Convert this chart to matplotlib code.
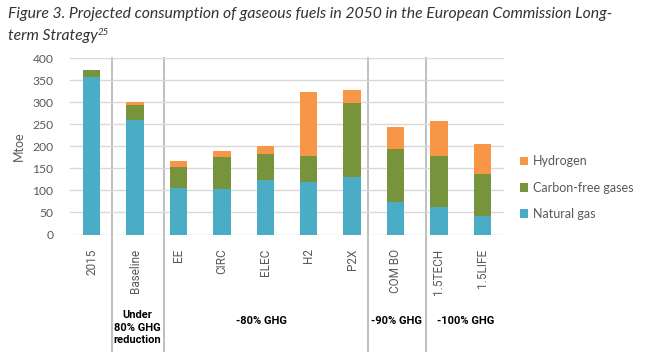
import numpy as np
import matplotlib
matplotlib.use("Agg")
import matplotlib.pyplot as plt

# data (Mtoe)
scenarios = ["2015", "Baseline", "EE", "CIRC", "ELEC", "H2", "P2X", "COM BO", "1.5TECH", "1.5LIFE"]
natural_gas = [357, 260, 106, 103, 124, 119, 130, 73, 63, 42]
carbon_free = [16, 34, 47, 73, 59, 59, 169, 121, 115, 96]
hydrogen = [0, 6, 14, 14, 17, 146, 28, 49, 79, 67]

group_labels = ["Under\n80% GHG\nreduction", "-80% GHG", "-90% GHG", "-100% GHG"]
group_centers = [1.04, 3.92, 7.03, 8.62]
separators = [0.46, 1.66, 6.37, 7.70]

c_ng = "#4BACC6"
c_cf = "#77933C"
c_h2 = "#F79646"
grey = "#595959"

fig = plt.figure(figsize=(6.56, 3.52), dpi=100)
ax = fig.add_axes([70/656, 1-234.5/352, 434/656, 176.2/352])

x = np.arange(len(scenarios))
ng = np.array(natural_gas)
cf = np.array(carbon_free)
h2 = np.array(hydrogen)
w = 0.40
ax.bar(x, ng, w, color=c_ng, label="Natural gas", zorder=3)
ax.bar(x, cf, w, bottom=ng, color=c_cf, label="Carbon-free gases", zorder=3)
ax.bar(x, h2, w, bottom=ng+cf, color=c_h2, label="Hydrogen", zorder=3)

ax.set_xlim(-0.5, len(scenarios)-0.5)
ax.set_ylim(0, 400)
ax.set_yticks(np.arange(0, 401, 50))
ax.yaxis.grid(True, color="#D9D9D9", lw=1, zorder=0)
for s in ax.spines.values():
    s.set_visible(False)
ax.tick_params(length=0)
ax.tick_params(axis="y", pad=12, labelsize=8.7, labelcolor=grey)
for t in ax.get_yticklabels():
    t.set_family("Lato")
ax.set_xticks(x)
ax.set_xticklabels(scenarios, rotation=90, family="Roboto", fontsize=8.5, color=grey)
ax.tick_params(axis="x", pad=10)

ax.set_ylabel("Mtoe", family="Lato", fontsize=9, color=grey, labelpad=5)

# scenario group separators, running below the axis
for s in separators:
    ax.plot([s, s], [1, -0.67], transform=ax.get_xaxis_transform(), color="#BFBFBF",
            lw=1.4, clip_on=False, zorder=1)

for lab, cx in zip(group_labels, group_centers):
    yy = -0.53 if "\n" in lab else -0.49
    ax.text(cx, yy, lab, transform=ax.get_xaxis_transform(), ha="center", va="center",
            family="Roboto", fontweight="bold", fontsize=8, color="black", linespacing=1.3)

h, l = ax.get_legend_handles_labels()
leg = ax.legend(h[::-1], l[::-1], loc="center left", bbox_to_anchor=(1.01, 0.265), frameon=False,
                prop={"family": "Lato", "size": 9}, handlelength=0.7, handleheight=0.7,
                handletextpad=0.4, labelspacing=1.15)
for t in leg.get_texts():
    t.set_color(grey)

t1 = fig.text(8/656, 1-14/352, "Figure 3. Projected consumption of gaseous fuels in 2050 in the European Commission Long-",
              family="Lato", style="italic", fontsize=11.3, color="#333333", va="center")
t2 = fig.text(8/656, 1-36/352, "term Strategy", family="Lato", style="italic", fontsize=11.3,
              color="#333333", va="center")
ax.annotate("25", xy=(1, 1.05), xycoords=t2, va="top", ha="left", family="Lato", style="italic",
            fontsize=7, color="#333333", annotation_clip=False)

fig.savefig("out.png", dpi=100)
